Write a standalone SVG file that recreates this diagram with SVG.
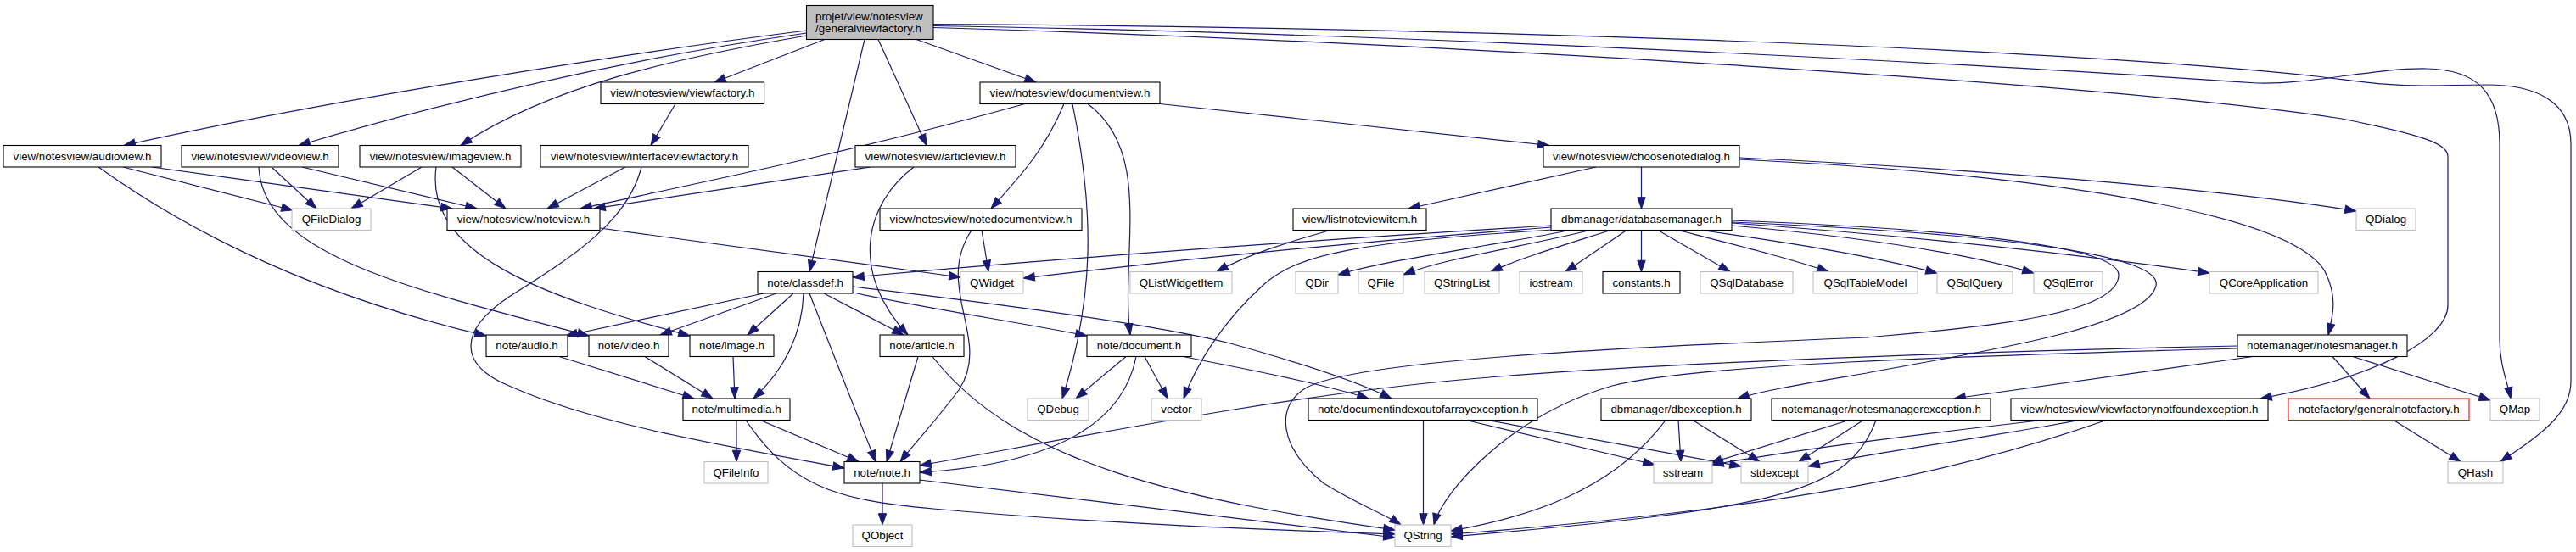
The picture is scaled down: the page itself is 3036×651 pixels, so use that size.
<svg xmlns="http://www.w3.org/2000/svg" width="3036" height="651" viewBox="0 0 3036 651">
<style>
rect{stroke-width:1.1}
.d rect{fill:#fff;stroke:#000}
.x rect{fill:#fff;stroke:#bfbfbf}
.r rect{fill:#fff;stroke:#ff0000}
.m rect{fill:#bfbfbf;stroke:#000}
text{font-family:"Liberation Sans",Arial,sans-serif;font-size:13.33px;fill:#000;text-anchor:middle}
#edges path{fill:none;stroke:#191970;stroke-width:1.2;marker-end:url(#a)}
</style>
<defs>
<marker id="a" markerWidth="16" markerHeight="12" refX="13.3" refY="4.67" orient="auto" markerUnits="userSpaceOnUse" overflow="visible">
<path d="M0,0 L13.3,4.67 L0,9.33 z" fill="#191970" stroke="#191970" stroke-width="1"/>
</marker>
</defs>
<rect x="0" y="0" width="3036" height="651" fill="#fff"/>
<g id="edges">
<path d="M950.5,36 C760,60 400,115 146,171.5"/>
<path d="M950.5,39 C760,66 560,110 352,171.5"/>
<path d="M950.5,42 C800,68 650,100 543,171.5"/>
<path d="M972,46.5 L842,97"/>
<path d="M1019,46.5 L954,320.5"/>
<path d="M1035,46.5 L1092,171.5"/>
<path d="M1080,46.5 L1221,97"/>
<path d="M1100,28.5 C1700,32 2400,55 2730,90 C2790,97 2810,101 2860,101 L2930,100 C2990,100 3030,120 3030,170 L3030,450 C3030,490 2990,515 2947,544.5"/>
<path d="M1100,30.5 C1700,40 2400,80 2660,98 C2720,100 2800,80 2860,81 C2920,82 2946,110 2946,170 L2946,400 C2946,430 2955,450 2959,470"/>
<path d="M1100,32.5 C1700,50 2500,100 2760,140 C2860,160 2885,170 2885,185 L2885,360 C2885,400 2800,445 2664,470"/>
<path d="M796,122.5 L767,171.5"/>
<path d="M737,197 L645,246"/>
<path d="M756,197 C740,260 680,300 600,350 C540,390 540,430 600,455 C700,500 850,525 995,552"/>
<path d="M145,197 L345,248"/>
<path d="M179,197 L533,246"/>
<path d="M116,197 C260,300 420,360 573,396"/>
<path d="M320,197 L373,246"/>
<path d="M356,197 L562,246"/>
<path d="M305,197 C310,300 480,340 694,396"/>
<path d="M497,197 L414,246"/>
<path d="M533,197 L596,246"/>
<path d="M514,197 C500,300 640,350 813,396"/>
<path d="M1026,197 C900,215 800,230 700,246"/>
<path d="M1077,197 C1020,240 1000,320 1070,395"/>
<path d="M1208,122.5 C1000,180 850,210 684,246"/>
<path d="M1254,122.5 C1230,180 1200,210 1168,246"/>
<path d="M1264,122.5 C1290,250 1290,350 1252,470"/>
<path d="M1282,122.5 C1360,180 1320,300 1332,395"/>
<path d="M1367,122.5 L1826,171.5"/>
<path d="M707,269 L1132,327"/>
<path d="M1157,271.5 L1165,320.5"/>
<path d="M1145,271.5 C1100,340 1170,400 1130,460 C1100,500 1080,520 1061,544.5"/>
<path d="M1881,197 L1660,246"/>
<path d="M1934.5,197 L1934.5,246"/>
<path d="M2050,186 C2300,198 2600,220 2777,249"/>
<path d="M2050,188 C2400,205 2700,250 2740,320 C2755,350 2750,370 2744,395"/>
<path d="M1568,271.5 C1520,285 1470,300 1434,320.5"/>
<path d="M1850,271.5 C1760,290 1640,305 1577,324"/>
<path d="M1874,271.5 C1800,290 1700,305 1654,324"/>
<path d="M1898,271.5 C1840,290 1790,305 1757,320.5"/>
<path d="M1917,271.5 L1845,320.5"/>
<path d="M1934.5,271.5 L1934.5,320.5"/>
<path d="M1954,271.5 L2039,320.5"/>
<path d="M1978,271.5 C2050,290 2110,305 2155,320.5"/>
<path d="M2005,271.5 C2100,285 2200,300 2283,322"/>
<path d="M2041,266 C2200,280 2320,300 2397,322"/>
<path d="M2041,263 C2250,278 2450,300 2604,322"/>
<path d="M2041,260 C2300,270 2500,290 2497,325 C2495,370 2350,385 2200,398 C1900,410 1600,425 1540,457 C1500,480 1510,530 1560,570 C1600,595 1630,605 1651,619"/>
<path d="M2041,262 C2350,275 2560,300 2540,340 C2520,390 2300,420 2200,440 C2130,452 2080,460 2048,470"/>
<path d="M1828,266 C1600,280 1300,300 1005,327"/>
<path d="M1828,268 C1600,285 1400,305 1206,328"/>
<path d="M1830,271 C1600,285 1530,300 1490,335 C1440,380 1410,430 1395,470"/>
<path d="M900,346 L667,396"/>
<path d="M915,346 L778,395"/>
<path d="M935,346 L881,395"/>
<path d="M947,346 C945,400 920,440 888,470"/>
<path d="M954,346 L1032,544.5"/>
<path d="M971,346 L1065,395"/>
<path d="M1005,345 C1100,365 1200,380 1281,396"/>
<path d="M1005,338 C1150,355 1350,380 1450,405 C1540,430 1600,450 1640,470"/>
<path d="M1395,420.5 C1450,432 1550,450 1613,470"/>
<path d="M659,420.5 C720,440 770,455 818,470"/>
<path d="M760,420.5 L840,470"/>
<path d="M864,420.5 L866,470"/>
<path d="M868,495.5 L868,544.5"/>
<path d="M896,495.5 L1012,544.5"/>
<path d="M879,495.5 C930,570 980,590 1100,600 C1300,618 1500,625 1644,630"/>
<path d="M1082,420.5 L1045,544.5"/>
<path d="M1099,420.5 C1200,550 1400,590 1644,625"/>
<path d="M1040,570 L1040,619"/>
<path d="M1084,566 L1644,634"/>
<path d="M1327,420.5 L1268,470"/>
<path d="M1349,420.5 L1376,470"/>
<path d="M1339,420.5 C1320,520 1200,550 1084,557"/>
<path d="M2637,408 C2300,415 1900,430 1700,450 C1500,470 1300,510 1084,549"/>
<path d="M2637,411 C2300,420 2000,430 1900,455 C1780,490 1700,580 1690,619"/>
<path d="M2655,420.5 L2303,470"/>
<path d="M2749,420.5 L2793,470"/>
<path d="M2773,420.5 L2935,472"/>
<path d="M2821,495.5 L2900,544.5"/>
<path d="M2407,495.5 C2300,508 2150,525 2018,548"/>
<path d="M2450,495.5 C2350,515 2200,535 2131,550"/>
<path d="M2482,495.5 C2300,560 2100,600 1710,630"/>
<path d="M2179,495.5 L2016,546"/>
<path d="M2196,495.5 L2120,544.5"/>
<path d="M2211,495.5 C2180,580 2100,600 1710,633"/>
<path d="M1963,495.5 C1900,580 1800,610 1710,626"/>
<path d="M1978,495.5 L1981,544.5"/>
<path d="M1995,495.5 L2074,544.5"/>
<path d="M1677.5,495.5 L1677.5,619"/>
<path d="M1728,495.5 L1950,548"/>
<path d="M1753,495.5 L2052,550"/>
</g>
<g id="n0" class="m"><rect x="950.5" y="6.5" width="149.5" height="40"/><text x="961" y="24" style="text-anchor:start">projet/view/notesview</text><text x="961" y="38" style="text-anchor:start">/generalviewfactory.h</text></g>
<g id="n1" class="d"><rect x="708" y="97" width="192.6" height="25.5"/><text x="804.3" y="114.3">view/notesview/viewfactory.h</text></g>
<g id="n2" class="d"><rect x="1155" y="97" width="212" height="25.5"/><text x="1261" y="114.3">view/notesview/documentview.h</text></g>
<g id="n3" class="d"><rect x="4" y="171.5" width="186" height="25.5"/><text x="97" y="188.8">view/notesview/audioview.h</text></g>
<g id="n4" class="d"><rect x="214" y="171.5" width="185" height="25.5"/><text x="306.5" y="188.8">view/notesview/videoview.h</text></g>
<g id="n5" class="d"><rect x="424" y="171.5" width="190" height="25.5"/><text x="519" y="188.8">view/notesview/imageview.h</text></g>
<g id="n6" class="d"><rect x="637" y="171.5" width="245" height="25.5"/><text x="759.5" y="188.8">view/notesview/interfaceviewfactory.h</text></g>
<g id="n7" class="d"><rect x="1008" y="171.5" width="189" height="25.5"/><text x="1102.5" y="188.8">view/notesview/articleview.h</text></g>
<g id="n8" class="d"><rect x="1819" y="171.5" width="231" height="25.5"/><text x="1934.5" y="188.8">view/notesview/choosenotedialog.h</text></g>
<g id="n9" class="x"><rect x="344" y="246" width="93" height="25.5"/><text x="390.5" y="263.3">QFileDialog</text></g>
<g id="n10" class="d"><rect x="527" y="246" width="180" height="25.5"/><text x="617" y="263.3">view/notesview/noteview.h</text></g>
<g id="n11" class="d"><rect x="1037" y="246" width="238" height="25.5"/><text x="1156" y="263.3">view/notesview/notedocumentview.h</text></g>
<g id="n12" class="d"><rect x="1524" y="246" width="157" height="25.5"/><text x="1602.5" y="263.3">view/listnoteviewitem.h</text></g>
<g id="n13" class="d"><rect x="1828" y="246" width="213" height="25.5"/><text x="1934.5" y="263.3">dbmanager/databasemanager.h</text></g>
<g id="n14" class="x"><rect x="2777" y="246" width="70" height="25.5"/><text x="2812" y="263.3">QDialog</text></g>
<g id="n15" class="d"><rect x="893" y="320.5" width="112" height="25.5"/><text x="949" y="337.8">note/classdef.h</text></g>
<g id="n16" class="x"><rect x="1132" y="320.5" width="74" height="25.5"/><text x="1169" y="337.8">QWidget</text></g>
<g id="n17" class="x"><rect x="1332" y="320.5" width="120" height="25.5"/><text x="1392" y="337.8">QListWidgetItem</text></g>
<g id="n18" class="x"><rect x="1527" y="320.5" width="50" height="25.5"/><text x="1552" y="337.8">QDir</text></g>
<g id="n19" class="x"><rect x="1601" y="320.5" width="53" height="25.5"/><text x="1627.5" y="337.8">QFile</text></g>
<g id="n20" class="x"><rect x="1679" y="320.5" width="88" height="25.5"/><text x="1723" y="337.8">QStringList</text></g>
<g id="n21" class="x"><rect x="1791" y="320.5" width="74" height="25.5"/><text x="1828" y="337.8">iostream</text></g>
<g id="n22" class="d"><rect x="1889" y="320.5" width="91" height="25.5"/><text x="1934.5" y="337.8">constants.h</text></g>
<g id="n23" class="x"><rect x="2004" y="320.5" width="109" height="25.5"/><text x="2058.5" y="337.8">QSqlDatabase</text></g>
<g id="n24" class="x"><rect x="2137" y="320.5" width="123" height="25.5"/><text x="2198.5" y="337.8">QSqlTableModel</text></g>
<g id="n25" class="x"><rect x="2283" y="320.5" width="89" height="25.5"/><text x="2327.5" y="337.8">QSqlQuery</text></g>
<g id="n26" class="x"><rect x="2397" y="320.5" width="81" height="25.5"/><text x="2437.5" y="337.8">QSqlError</text></g>
<g id="n27" class="x"><rect x="2604" y="320.5" width="128" height="25.5"/><text x="2668" y="337.8">QCoreApplication</text></g>
<g id="n28" class="d"><rect x="573" y="395" width="96" height="25.5"/><text x="621" y="412.3">note/audio.h</text></g>
<g id="n29" class="d"><rect x="694" y="395" width="94" height="25.5"/><text x="741" y="412.3">note/video.h</text></g>
<g id="n30" class="d"><rect x="813" y="395" width="99" height="25.5"/><text x="862.5" y="412.3">note/image.h</text></g>
<g id="n31" class="d"><rect x="1037" y="395" width="99" height="25.5"/><text x="1086.5" y="412.3">note/article.h</text></g>
<g id="n32" class="d"><rect x="1281" y="395" width="123" height="25.5"/><text x="1342.5" y="412.3">note/document.h</text></g>
<g id="n33" class="d"><rect x="2637" y="395" width="200" height="25.5"/><text x="2737" y="412.3">notemanager/notesmanager.h</text></g>
<g id="n34" class="d"><rect x="805" y="470" width="126" height="25.5"/><text x="868" y="487.3">note/multimedia.h</text></g>
<g id="n35" class="x"><rect x="1211" y="470" width="72" height="25.5"/><text x="1247" y="487.3">QDebug</text></g>
<g id="n36" class="x"><rect x="1357" y="470" width="59" height="25.5"/><text x="1386.5" y="487.3">vector</text></g>
<g id="n37" class="d"><rect x="1542" y="470" width="270" height="25.5"/><text x="1677" y="487.3">note/documentindexoutofarrayexception.h</text></g>
<g id="n38" class="d"><rect x="1887" y="470" width="177" height="25.5"/><text x="1975.5" y="487.3">dbmanager/dbexception.h</text></g>
<g id="n39" class="d"><rect x="2088" y="470" width="258" height="25.5"/><text x="2217" y="487.3">notemanager/notesmanagerexception.h</text></g>
<g id="n40" class="d"><rect x="2370" y="470" width="303" height="25.5"/><text x="2521.5" y="487.3">view/notesview/viewfactorynotfoundexception.h</text></g>
<g id="n41" class="r"><rect x="2697" y="470" width="213" height="25.5"/><text x="2803.5" y="487.3">notefactory/generalnotefactory.h</text></g>
<g id="n42" class="x"><rect x="2935" y="470" width="58" height="25.5"/><text x="2964" y="487.3">QMap</text></g>
<g id="n43" class="x"><rect x="830" y="544.5" width="75" height="25.5"/><text x="867.5" y="561.8">QFileInfo</text></g>
<g id="n44" class="d"><rect x="995" y="544.5" width="89" height="25.5"/><text x="1039.5" y="561.8">note/note.h</text></g>
<g id="n45" class="x"><rect x="1949" y="544.5" width="69" height="25.5"/><text x="1983.5" y="561.8">sstream</text></g>
<g id="n46" class="x"><rect x="2052" y="544.5" width="79" height="25.5"/><text x="2091.5" y="561.8">stdexcept</text></g>
<g id="n47" class="x"><rect x="2885" y="544.5" width="65" height="25.5"/><text x="2917.5" y="561.8">QHash</text></g>
<g id="n48" class="x"><rect x="1005" y="619" width="70" height="25.5"/><text x="1040" y="636.3">QObject</text></g>
<g id="n49" class="x"><rect x="1644" y="619" width="66" height="25.5"/><text x="1677" y="636.3">QString</text></g>
</svg>
